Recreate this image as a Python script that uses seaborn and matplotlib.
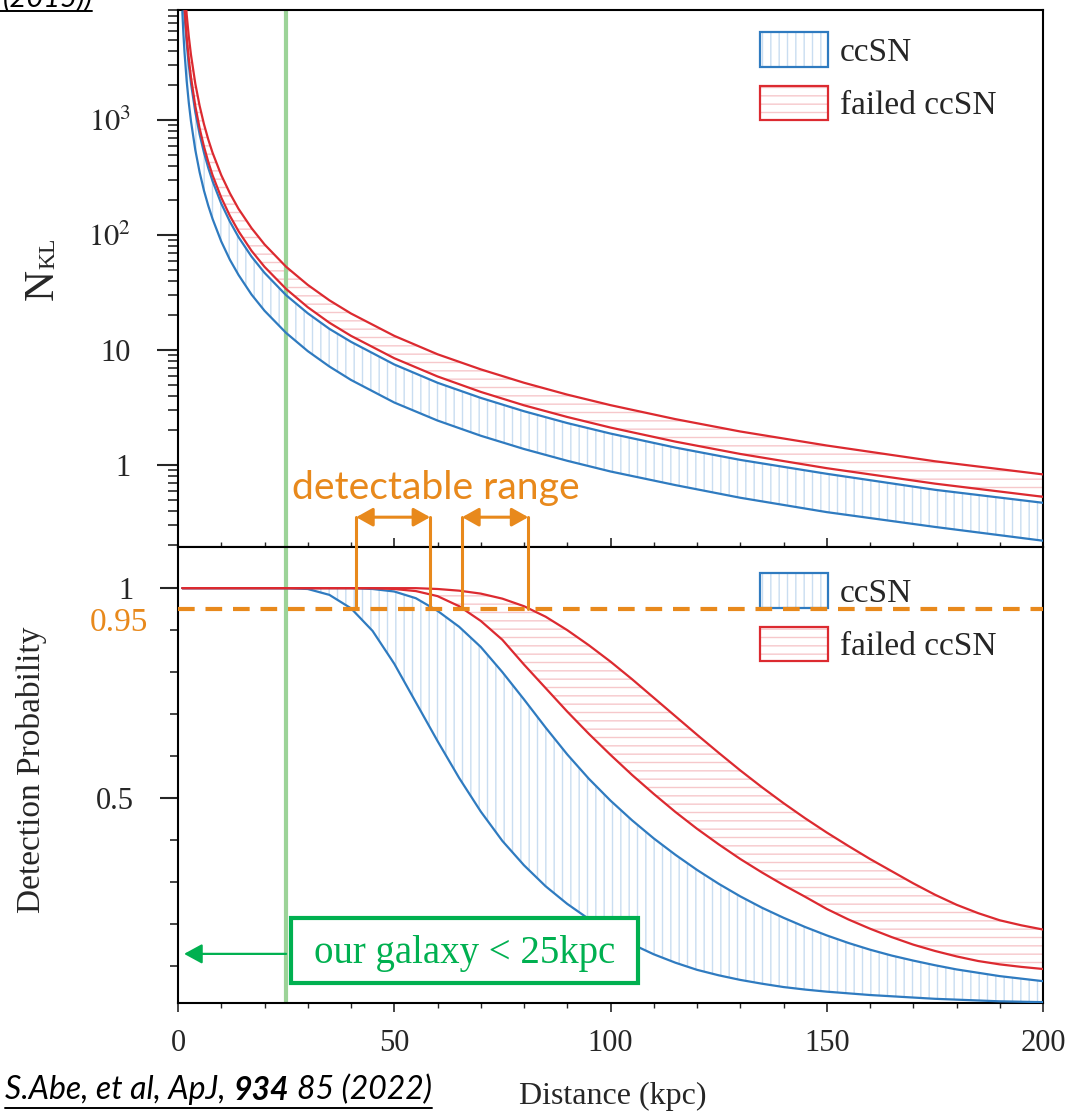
import numpy as np
import pandas as pd
import matplotlib
matplotlib.use("Agg")
import matplotlib.pyplot as plt
import seaborn as sns
from matplotlib.patches import Rectangle, Patch
from matplotlib.lines import Line2D
from matplotlib.ticker import MultipleLocator, LogLocator, NullFormatter, FixedLocator

# ---------------- data ----------------
D_TOP = [1, 1.25, 1.5, 2, 2.5, 3, 4, 5, 6, 7, 8, 10, 12, 14, 17, 20, 25, 30, 35, 40,
         50, 60, 70, 80, 90, 100, 115, 130, 150, 175, 200]
NKL_CC_LO = [8800, 5630, 3910, 2200, 1410, 978, 550, 352, 244, 180, 138, 88, 61, 45, 30.4,
             22, 14.1, 9.8, 7.2, 5.5, 3.5, 2.44, 1.80, 1.38, 1.09, 0.88, 0.67, 0.52, 0.39, 0.29, 0.22]
NKL_CC_HI = [18800, 12000, 8360, 4700, 3010, 2090, 1175, 752, 522, 384, 294, 188, 131, 96, 65,
             47, 30, 20.9, 15.3, 11.8, 7.5, 5.2, 3.84, 2.94, 2.32, 1.88, 1.42, 1.11, 0.84, 0.61, 0.47]
NKL_FAIL_LO = [21200, 13600, 9420, 5300, 3390, 2360, 1325, 848, 589, 433, 331, 212, 147, 108, 73,
               53, 34, 23.6, 17.3, 13.3, 8.5, 5.9, 4.33, 3.31, 2.62, 2.12, 1.60, 1.25, 0.94, 0.69, 0.53]
NKL_FAIL_HI = [33200, 21200, 14800, 8300, 5310, 3690, 2075, 1330, 922, 678, 519, 332, 231, 169, 115,
               83, 53, 36.9, 27.1, 20.8, 13.3, 9.2, 6.8, 5.2, 4.1, 3.32, 2.51, 1.96, 1.48, 1.08, 0.83]

D_BOT = [1, 5, 10, 15, 20, 25, 30, 35, 40, 45, 50, 55, 60, 65, 70, 75, 80, 85, 90, 95, 100,
         105, 110, 115, 120, 125, 130, 135, 140, 145, 150, 155, 160, 165, 170, 175, 180, 185,
         190, 195, 200]
P_CC_LO = [1.0, 1.0, 1.0, 1.0, 1.0, 1.0, 0.998, 0.984, 0.952, 0.898, 0.820, 0.728, 0.636,
           0.548, 0.468, 0.398, 0.340, 0.290, 0.248, 0.212, 0.180, 0.152, 0.128, 0.108, 0.091,
           0.078, 0.067, 0.058, 0.050, 0.044, 0.039, 0.035, 0.031, 0.028, 0.025, 0.022, 0.020,
           0.018, 0.016, 0.015, 0.014]
P_CC_HI = [1.0, 1.0, 1.0, 1.0, 1.0, 1.0, 1.0, 1.0, 1.0, 0.998, 0.992, 0.976, 0.946, 0.908,
           0.860, 0.800, 0.735, 0.668, 0.604, 0.546, 0.494, 0.447, 0.404, 0.365, 0.329, 0.296,
           0.266, 0.239, 0.215, 0.193, 0.173, 0.155, 0.139, 0.125, 0.113, 0.102, 0.092, 0.084,
           0.076, 0.070, 0.064]
P_FAIL_LO = [1.0, 1.0, 1.0, 1.0, 1.0, 1.0, 1.0, 1.0, 1.0, 1.0, 0.998, 0.993, 0.981, 0.957,
             0.922, 0.877, 0.818, 0.762, 0.706, 0.653, 0.603, 0.555, 0.510, 0.467, 0.427, 0.390,
             0.355, 0.323, 0.293, 0.265, 0.236, 0.211, 0.189, 0.169, 0.151, 0.136, 0.123, 0.112,
             0.104, 0.098, 0.093]
P_FAIL_HI = [1.0, 1.0, 1.0, 1.0, 1.0, 1.0, 1.0, 1.0, 1.0, 1.0, 1.0, 1.0, 0.998, 0.994, 0.987,
             0.975, 0.957, 0.932, 0.900, 0.864, 0.825, 0.783, 0.739, 0.695, 0.651, 0.608, 0.566,
             0.526, 0.488, 0.452, 0.418, 0.386, 0.355, 0.326, 0.297, 0.270, 0.246, 0.226, 0.209,
             0.197, 0.187]

GALAXY_EDGE = 25          # kpc
P_THRESHOLD = 0.95
DETECT_RANGES = [(41.2, 58.3), (65.7, 81.0)]
LEGEND_LABELS = ["ccSN", "failed ccSN"]
X_TICKS = [0, 50, 100, 150, 200]
TOP_YTICKS = [1, 10, 100, 1000]
TOP_YTICKLABELS = ["1", "10", r"$10^{2}$", r"$10^{3}$"]
BOT_YTICKS = [0.5, 1]
BOT_YTICKLABELS = ["0.5", "1"]

# ---------------- style ----------------
BLUE = "#2f7bc0"
RED = "#dc2a30"
HATCH_BLUE = "#c9ddf1"
HATCH_RED = "#f6c8cb"
GREEN_LINE = "#9cd398"
GREEN = "#00b050"
ORANGE = "#e8891c"
SANS = ["Lato", "DejaVu Sans"]

sns.set_style("ticks")
plt.rcParams["font.family"] = ["Liberation Serif", "DejaVu Serif"]
plt.rcParams["mathtext.fontset"] = "stix"
plt.rcParams["hatch.linewidth"] = 1.0
plt.rcParams["axes.linewidth"] = 1.5

W, H = 1071, 1112
fig = plt.figure(figsize=(W / 100, H / 100), dpi=100)


def fx(px):
    return px / W


def fy(py):
    return 1 - py / H


L, R = 178, 1043
ax1 = fig.add_axes([fx(L), fy(547), fx(R) - fx(L), fy(10) - fy(547)])
ax2 = fig.add_axes([fx(L), fy(1003), fx(R) - fx(L), fy(547) - fy(1003)])
for ax in (ax1, ax2):
    for s in ax.spines.values():
        s.set_color("black")
        s.set_linewidth(1.5)

# ---------------- top panel ----------------
top = pd.DataFrame({"d": D_TOP, "cc_lo": NKL_CC_LO, "cc_hi": NKL_CC_HI,
                    "f_lo": NKL_FAIL_LO, "f_hi": NKL_FAIL_HI})
ax1.fill_between(top["d"], top["cc_lo"], top["cc_hi"], facecolor="none",
                 edgecolor=HATCH_BLUE, hatch="||", linewidth=0, zorder=1)
ax1.fill_between(top["d"], top["f_lo"], top["f_hi"], facecolor="none",
                 edgecolor=HATCH_RED, hatch="--", linewidth=0, zorder=1)
for col, c in [("cc_lo", BLUE), ("cc_hi", BLUE), ("f_lo", RED), ("f_hi", RED)]:
    sns.lineplot(data=top, x="d", y=col, color=c, lw=1.6, ax=ax1, zorder=3, sort=False)
ax1.axvline(GALAXY_EDGE, color=GREEN_LINE, lw=3, zorder=2.5)

ax1.set_yscale("log")
ax1.set_xlim(0, 200)
ax1.set_ylim(0.194, 9060)
ax1.yaxis.set_major_locator(FixedLocator(TOP_YTICKS))
ax1.set_yticklabels(TOP_YTICKLABELS)
ax1.yaxis.set_minor_locator(LogLocator(base=10, subs=np.arange(2, 10)))
ax1.yaxis.set_minor_formatter(NullFormatter())
ax1.xaxis.set_major_locator(FixedLocator(X_TICKS))
ax1.xaxis.set_minor_locator(MultipleLocator(10))
ax1.tick_params(axis="y", which="major", direction="out", length=15, width=1.5,
                labelsize=22, pad=19, left=True, right=False)
ax1.tick_params(axis="y", which="minor", direction="out", length=7, width=1.2)
ax1.tick_params(axis="x", which="major", direction="in", length=6.5, width=1.2,
                labelbottom=False, bottom=True, top=False)
ax1.tick_params(axis="x", which="minor", direction="in", length=3.5, width=1.0)
ax1.set_xlabel("")
ax1.set_ylabel("")
# N_KL label: big N with small subscript KL
fig.text(fx(53), fy(300), "N", rotation=90, rotation_mode="anchor", ha="left",
         va="baseline", fontsize=31)
fig.text(fx(54), fy(269), "KL", rotation=90, rotation_mode="anchor", ha="left",
         va="baseline", fontsize=17)

# ---------------- bottom panel ----------------
bot = pd.DataFrame({"d": D_BOT, "cc_lo": P_CC_LO, "cc_hi": P_CC_HI,
                    "f_lo": P_FAIL_LO, "f_hi": P_FAIL_HI})
ax2.fill_between(bot["d"], bot["cc_lo"], bot["cc_hi"], facecolor="none",
                 edgecolor=HATCH_BLUE, hatch="||", linewidth=0, zorder=1)
ax2.fill_between(bot["d"], bot["f_lo"], bot["f_hi"], facecolor="none",
                 edgecolor=HATCH_RED, hatch="--", linewidth=0, zorder=1)
for col, c in [("cc_lo", BLUE), ("cc_hi", BLUE), ("f_lo", RED), ("f_hi", RED)]:
    sns.lineplot(data=bot, x="d", y=col, color=c, lw=1.6, ax=ax2, zorder=3, sort=False)
ax2.axvline(GALAXY_EDGE, color=GREEN_LINE, lw=3, zorder=2.5)

ax2.set_xlim(0, 200)
ax2.set_ylim(0.012, 1.098)
ax2.yaxis.set_major_locator(FixedLocator(BOT_YTICKS))
ax2.set_yticklabels(BOT_YTICKLABELS)
ax2.yaxis.set_minor_locator(MultipleLocator(0.1))
ax2.xaxis.set_major_locator(FixedLocator(X_TICKS))
ax2.set_xticklabels([str(v) for v in X_TICKS])
ax2.xaxis.set_minor_locator(MultipleLocator(10))
ax2.tick_params(axis="y", which="major", direction="out", length=13, width=1.5,
                labelsize=22, pad=19, right=False)
ax2.tick_params(axis="y", which="minor", direction="out", length=6, width=1.2)
ax2.tick_params(axis="x", which="major", direction="out", length=6.5, width=1.2,
                labelsize=22, pad=12, top=False)
ax2.tick_params(axis="x", which="minor", direction="out", length=3.5, width=1.0)
ax2.set_ylabel("Detection Probability", fontsize=24)
ax2.yaxis.set_label_coords(-0.151, 0.511)
ax2.set_xlabel("Distance (kpc)", fontsize=23)
ax2.xaxis.set_label_coords(0.503, -0.172)

# threshold line and its label
ax2.axhline(P_THRESHOLD, color=ORANGE, lw=3, dashes=(4, 2.6), zorder=6)
ax2.text(-0.0347, 0.917, "0.95", transform=ax2.get_yaxis_transform(), ha="right",
         va="center", color=ORANGE, fontsize=24)

# detectable range brackets
BR_TOP = 1.169
for lo, hi in DETECT_RANGES:
    for xv in (lo, hi):
        ax2.plot([xv, xv], [P_THRESHOLD, BR_TOP], color=ORANGE, lw=2.2, clip_on=False, zorder=7)
    ax2.annotate("", xy=(hi, BR_TOP), xytext=(lo, BR_TOP), annotation_clip=False,
                 arrowprops=dict(arrowstyle="<|-|>,head_length=0.5,head_width=0.28",
                                 mutation_scale=20, color=ORANGE, lw=2.2,
                                 shrinkA=0, shrinkB=0), zorder=7)

# our galaxy box + arrow
ax2.add_patch(Rectangle((26.2, 0.0595), 80.2, 0.1545, facecolor="white",
                        edgecolor=GREEN, lw=3, zorder=7))
ax2.text(66.3, 0.130, "our galaxy < 25kpc", ha="center", va="center",
         fontsize=28, color=GREEN, zorder=8)
ax2.annotate("", xy=(1.4, 0.129), xytext=(GALAXY_EDGE, 0.129),
             arrowprops=dict(arrowstyle="-|>,head_length=0.55,head_width=0.3",
                             mutation_scale=20, color=GREEN, lw=1.6,
                             shrinkA=0, shrinkB=0), zorder=8)

# ---------------- legends ----------------
def make_handles():
    hb = Patch(facecolor="white", edgecolor=HATCH_BLUE, hatch="||", linewidth=0)
    eb = Patch(facecolor="none", edgecolor=BLUE, linewidth=1.6)
    hr = Patch(facecolor="white", edgecolor=HATCH_RED, hatch="--", linewidth=0)
    er = Patch(facecolor="none", edgecolor=RED, linewidth=1.6)
    return [(hb, eb), (hr, er)]


leg_kw = dict(loc="upper left", bbox_transform=fig.transFigure, frameon=False,
              borderpad=0, borderaxespad=0, handlelength=2.04, handleheight=1.23,
              handletextpad=0.35, labelspacing=0.54, fontsize=24)
ax1.legend(make_handles(), LEGEND_LABELS, bbox_to_anchor=(fx(760), fy(32)), **leg_kw)
leg2 = ax2.legend(make_handles(), LEGEND_LABELS, bbox_to_anchor=(fx(760), fy(573)), **leg_kw)
leg2.set_zorder(5)

# ---------------- extra texts ----------------
fig.canvas.draw()
rend = fig.canvas.get_renderer()

# detectable range text (fit to width)
tdet = fig.text(fx(436), fy(499), "detectable range", ha="center", va="baseline",
                family=SANS, fontsize=24, color=ORANGE)
w = tdet.get_window_extent(rend).width
tdet.set_fontsize(24 * 288 / w)


def citation(fs):
    kw = dict(family=SANS, style="italic", fontsize=fs, color="black")
    t1 = fig.text(fx(5), fy(1099), "S.Abe, et al, ApJ,", ha="left", va="baseline", **kw)
    t2 = ax2.annotate("934", xy=(1, 0), xycoords=t1, xytext=(0.25 * fs, 0),
                      textcoords="offset points", va="bottom", ha="left",
                      fontweight="bold", annotation_clip=False, **kw)
    t3 = ax2.annotate("85 (2022)", xy=(1, 0), xycoords=t2, xytext=(0.25 * fs, 0),
                      textcoords="offset points", va="bottom", ha="left",
                      annotation_clip=False, **kw)
    return t1, t2, t3


ts = citation(20)
fig.canvas.draw()
wid = ts[2].get_window_extent(rend).x1 - ts[0].get_window_extent(rend).x0
for t in ts:
    t.remove()
ts = citation(20 * 428 / wid)
fig.canvas.draw()
x0 = ts[0].get_window_extent(rend).x0
x1 = ts[2].get_window_extent(rend).x1
fig.add_artist(Line2D([x0 / W, x1 / W], [fy(1108), fy(1108)], color="black", lw=1.4))

# cropped header fragment at top-left (cut off in the source image as well)
fig.text(fx(3), fy(7), "(2015))", ha="left", va="baseline", family=SANS,
         style="italic", fontsize=21, color="black")
fig.add_artist(Line2D([0, fx(92)], [fy(10.5), fy(10.5)], color="black", lw=1.4))

fig.savefig("out.png", dpi=100)
